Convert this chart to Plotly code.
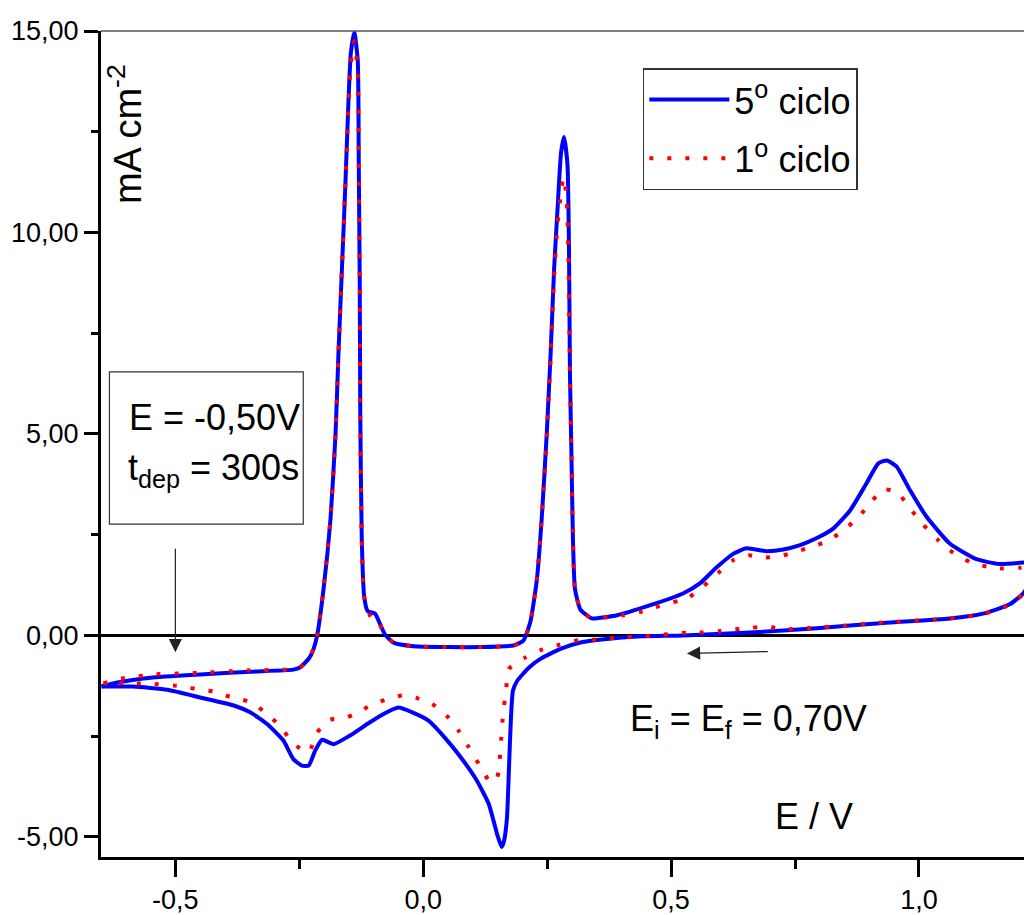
import plotly.graph_objects as go

# ---------------- data ----------------
# 5th cycle, anodic sweep (left -> right)
c5_anodic_E = [-0.649, -0.617, -0.55, -0.45, -0.349, -0.262, -0.248, -0.231, -0.221, -0.214,
               -0.201, -0.187, -0.177, -0.171, -0.164, -0.157, -0.151, -0.146, -0.139, -0.132,
               -0.130, -0.128, -0.127, -0.124, -0.119, -0.112, -0.097, -0.087, -0.077, -0.060,
               -0.020, 0.048, 0.115, 0.182, 0.202, 0.216, 0.229, 0.239, 0.249, 0.257,
               0.264, 0.271, 0.278, 0.284, 0.291, 0.294, 0.296, 0.299, 0.302, 0.306,
               0.317, 0.337, 0.343, 0.391, 0.458, 0.524, 0.558, 0.592, 0.626, 0.652,
               0.693, 0.726, 0.760, 0.793, 0.827, 0.861, 0.894, 0.918, 0.935, 0.955,
               0.982, 1.015, 1.062, 1.116, 1.163, 1.224]
c5_anodic_j = [-1.27, -1.17, -1.05, -0.97, -0.90, -0.85, -0.79, -0.58, -0.33, 0.0,
               1.16, 2.9, 4.97, 7.0, 9.1, 11.2, 13.2, 14.46, 14.97, 14.25,
               11.7, 8.6, 5.5, 2.4, 0.95, 0.6, 0.54, 0.28, 0.02, -0.18,
               -0.27, -0.29, -0.29, -0.25, -0.13, 0.33, 1.36, 2.9, 4.97, 7.0,
               9.1, 10.6, 11.98, 12.37, 11.67, 9.6, 6.5, 4.45, 2.4, 1.16,
               0.64, 0.44, 0.42, 0.50, 0.75, 1.04, 1.29, 1.69, 2.03, 2.16,
               2.09, 2.13, 2.24, 2.41, 2.65, 3.1, 3.77, 4.27, 4.34, 4.19,
               3.6, 2.95, 2.28, 1.89, 1.77, 1.82]
# 5th cycle, cathodic sweep (right -> left)
c5_cathodic_E = [1.228, 1.21, 1.183, 1.129, 1.062, 0.928, 0.794, 0.659, 0.524, 0.441,
                 0.36, 0.319, 0.278, 0.238, 0.214, 0.190, 0.181, 0.177, 0.173, 0.169,
                 0.163, 0.158, 0.149, 0.132, 0.108, 0.076, 0.043, 0.010, -0.022, -0.050,
                 -0.08, -0.113, -0.147, -0.181, -0.204, -0.218, -0.231, -0.245, -0.262, -0.282,
                 -0.315, -0.349, -0.382, -0.45, -0.516, -0.585, -0.649]
c5_cathodic_j = [1.37, 1.04, 0.77, 0.54, 0.42, 0.31, 0.18, 0.07, 0.0, -0.02,
                 -0.1, -0.17, -0.33, -0.57, -0.79, -1.12, -1.37, -2.03, -3.28, -4.52,
                 -5.1, -5.25, -4.93, -4.18, -3.6, -3.03, -2.53, -2.11, -1.91, -1.79,
                 -1.95, -2.2, -2.48, -2.7, -2.59, -2.86, -3.23, -3.23, -3.07, -2.61,
                 -2.2, -1.91, -1.74, -1.54, -1.35, -1.27, -1.27]

# 1st cycle, anodic sweep (left -> right)
c1_anodic_E = [-0.645, -0.607, -0.544, -0.45, -0.355, -0.258, -0.248, -0.231, -0.221, -0.214,
               -0.201, -0.187, -0.177, -0.171, -0.164, -0.157, -0.151, -0.146, -0.139, -0.132,
               -0.130, -0.128, -0.127, -0.124, -0.119, -0.105, -0.097, -0.087, -0.077, -0.060,
               -0.020, 0.048, 0.115, 0.182, 0.202, 0.216, 0.229, 0.239, 0.249, 0.257,
               0.264, 0.271, 0.278, 0.283, 0.289, 0.293, 0.296, 0.299, 0.302, 0.306,
               0.317, 0.340, 0.373, 0.403, 0.437, 0.468, 0.535, 0.565, 0.595, 0.626,
               0.656, 0.683, 0.713, 0.740, 0.774, 0.807, 0.837, 0.868, 0.898, 0.926,
               0.955, 0.982, 1.009, 1.039, 1.069, 1.106, 1.140, 1.170, 1.204, 1.228]
c1_anodic_j = [-1.19, -1.07, -0.97, -0.93, -0.87, -0.84, -0.79, -0.58, -0.33, 0.0,
               1.16, 2.9, 4.97, 7.0, 9.1, 11.2, 13.1, 14.2, 14.75, 14.0,
               11.5, 8.6, 5.5, 2.4, 0.95, 0.44, 0.45, 0.25, 0.02, -0.18,
               -0.27, -0.29, -0.29, -0.25, -0.13, 0.33, 1.36, 2.9, 4.9, 6.9,
               8.9, 10.2, 11.0, 11.37, 10.9, 9.4, 6.5, 4.45, 2.4, 1.16,
               0.64, 0.42, 0.45, 0.50, 0.58, 0.70, 0.94, 1.22, 1.55, 1.87,
               1.99, 1.93, 1.95, 2.03, 2.16, 2.30, 2.51, 2.82, 3.21, 3.62,
               3.57, 3.15, 2.74, 2.36, 2.05, 1.80, 1.70, 1.66, 1.68, 1.74]
# 1st cycle, cathodic sweep (right -> left)
c1_cathodic_E = [1.228, 1.21, 1.183, 1.129, 1.062, 0.928, 0.794, 0.720, 0.698, 0.663,
                 0.629, 0.599, 0.565, 0.532, 0.501, 0.471, 0.444, 0.411, 0.377, 0.343,
                 0.313, 0.276, 0.238, 0.206, 0.173, 0.167, 0.161, 0.157, 0.153, 0.149,
                 0.136, 0.112, 0.092, 0.071, 0.047, 0.018, -0.014, -0.042, -0.077, -0.107,
                 -0.133, -0.164, -0.188, -0.214, -0.231, -0.262, -0.288, -0.322, -0.352, -0.386,
                 -0.423, -0.45, -0.484, -0.55, -0.585, -0.645]
c1_cathodic_j = [1.35, 1.02, 0.76, 0.53, 0.42, 0.32, 0.19, 0.15, 0.22, 0.19,
                 0.15, 0.11, 0.07, 0.07, 0.04, 0.0, -0.02, -0.04, -0.07, -0.11,
                 -0.12, -0.23, -0.36, -0.55, -0.83, -1.37, -1.95, -2.61, -3.28, -3.53,
                 -3.65, -3.19, -2.78, -2.36, -1.99, -1.70, -1.55, -1.49, -1.60, -1.74,
                 -1.93, -2.07, -2.09, -2.41, -2.90, -2.69, -2.26, -1.88, -1.64, -1.54,
                 -1.39, -1.35, -1.27, -1.20, -1.19, -1.19]

series_names = ["5<sup>o</sup> ciclo", "1<sup>o</sup> ciclo"]

x_tick_vals = [-0.5, 0.0, 0.5, 1.0]
x_tick_text = ["-0,5", "0,0", "0,5", "1,0"]
x_minor_vals = [-0.25, 0.25, 0.75]
y_tick_vals = [-5, 0, 5, 10, 15]
y_tick_text = ["-5,00", "0,00", "5,00", "10,00", "15,00"]
y_minor_vals = [-2.5, 2.5, 7.5, 12.5]

# ---------------- figure ----------------
REG = "Liberation Sans, Arial, sans-serif"
TXT = "Liberation Sans Narrow, Arial Narrow, Liberation Sans, Arial, sans-serif"
TXT_SIZE = 36

fig = go.Figure()
fig.add_trace(go.Scatter(
    x=c5_anodic_E + [None] + c5_cathodic_E,
    y=c5_anodic_j + [None] + c5_cathodic_j,
    mode="lines", name=series_names[0], legendgroup="c5",
    line=dict(color="#0000FF", width=4, shape="spline", smoothing=0.5),
    connectgaps=False,
))
fig.add_trace(go.Scatter(
    x=c1_anodic_E + [None] + c1_cathodic_E,
    y=c1_anodic_j + [None] + c1_cathodic_j,
    mode="lines", name=series_names[1], legendgroup="c1",
    line=dict(color="#FF0000", width=4, dash="4px,14px", shape="spline", smoothing=0.5),
    connectgaps=False,
))

axis_common = dict(
    showline=True, linecolor="black", linewidth=3, mirror=False,
    ticks="outside", tickcolor="black", tickwidth=2.5,
    showgrid=False,
    tickfont=dict(family=REG, size=27, color="black"),
)
fig.update_xaxes(
    range=[-0.65, 1.228], tickmode="array", tickvals=x_tick_vals, ticktext=x_tick_text,
    ticklen=17, zeroline=False,
    minor=dict(tickmode="array", tickvals=x_minor_vals, ticks="outside", ticklen=9,
               tickwidth=2.5, tickcolor="black", showgrid=False),
    **axis_common,
)
fig.update_yaxes(
    range=[-5.5, 15], tickmode="array", tickvals=y_tick_vals, ticktext=y_tick_text,
    ticklen=14, zeroline=True, zerolinecolor="black", zerolinewidth=3,
    minor=dict(tickmode="array", tickvals=y_minor_vals, ticks="outside", ticklen=7,
               tickwidth=2.5, tickcolor="black", showgrid=False),
    **axis_common,
)

shapes = [
    # top frame line
    dict(type="line", xref="paper", yref="paper", x0=0, x1=1, y0=1, y1=1,
         line=dict(color="#555555", width=1.5)),
    # conditions box
    dict(type="rect", xref="x", yref="y", x0=-0.633, x1=-0.242, y0=2.76, y1=6.54,
         line=dict(color="#333333", width=1.2), fillcolor="rgba(0,0,0,0)"),
]

annotations = [
    dict(xref="x", yref="y", x=-0.603, y=12.45, text="mA cm<sup>-2</sup>", textangle=-90,
         showarrow=False, font=dict(family=REG, size=38, color="black")),
    dict(xref="x", yref="y", x=-0.597, y=5.42, text="E = -0,50V", xanchor="left",
         yanchor="middle", showarrow=False, font=dict(family=TXT, size=TXT_SIZE, color="black")),
    dict(xref="x", yref="y", x=-0.599, y=4.1, text="t<sub>dep</sub> = 300s", xanchor="left",
         yanchor="middle", showarrow=False, font=dict(family=TXT, size=TXT_SIZE, color="black")),
    dict(xref="x", yref="y", x=0.413, y=-2.13, text="E<sub>i</sub> = E<sub>f</sub> = 0,70V",
         xanchor="left", yanchor="middle", showarrow=False,
         font=dict(family=TXT, size=TXT_SIZE, color="black")),
    dict(xref="x", yref="y", x=0.706, y=-4.49, text="E / V", xanchor="left",
         yanchor="middle", showarrow=False, font=dict(family=TXT, size=TXT_SIZE, color="black")),
    # arrow at deposition potential
    dict(xref="x", yref="y", axref="x", ayref="y", x=-0.5, y=-0.42, ax=-0.5, ay=2.19,
         text="", showarrow=True, arrowhead=2, arrowsize=2.2, arrowwidth=1.2,
         arrowcolor="#222222"),
    # scan direction arrow
    dict(xref="x", yref="y", axref="x", ayref="y", x=0.532, y=-0.45, ax=0.698, ay=-0.40,
         text="", showarrow=True, arrowhead=2, arrowsize=2.2, arrowwidth=1.2,
         arrowcolor="#222222"),
]

# the page body adds an 8px offset, so the figure is 8px smaller and margins compensate
fig.update_layout(
    width=1024, height=907,
    margin=dict(l=93, r=0, t=23, b=51),
    plot_bgcolor="white", paper_bgcolor="white",
    shapes=shapes, annotations=annotations,
    showlegend=True,
    legend=dict(x=0.582, y=0.955, xanchor="left", yanchor="top",
                bordercolor="#333333", borderwidth=1.5, bgcolor="white",
                font=dict(family=TXT, size=TXT_SIZE, color="black"),
                itemwidth=80, tracegroupgap=9),
)

fig.write_html("out.html")
